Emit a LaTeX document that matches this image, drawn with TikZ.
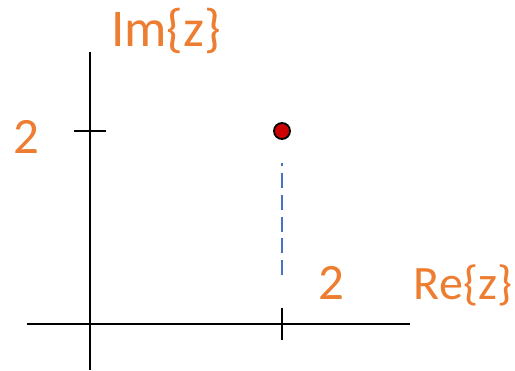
\documentclass[tikz,border=0pt]{standalone}
\usepackage{fontspec}
\setmainfont{Carlito}
\definecolor{lblorange}{HTML}{ED7D31}
\definecolor{dashblue}{HTML}{4472C4}
\definecolor{dotred}{HTML}{CC0000}
\begin{document}
\begin{tikzpicture}[x=1pt,y=-1pt,
  axisline/.style={line width=2pt,black},
  lbl/.style={text=lblorange,font=\fontsize{48}{50}\selectfont,inner sep=0pt,anchor=base}]
\useasboundingbox (0,0) rectangle (515,371);
% axes
\coordinate (xl) at (27,324);
\coordinate (xr) at (410,324);
\coordinate (yt) at (90,52);
\coordinate (yb) at (90,370);
\draw[axisline] (xl) -- (xr);
\draw[axisline] (yb) -- (yt);
% ticks
\coordinate (tyl) at (74,131);
\coordinate (tyr) at (106,131);
\coordinate (txt) at (282,308);
\coordinate (txb) at (282,340);
\draw[axisline] (tyl) -- (tyr);
\draw[axisline] (txt) -- (txb);
% point and dashed line
\node[circle,draw=black,line width=1.8pt,fill=dotred,minimum size=16pt,inner sep=0pt] (pt) at (282,131) {};
\coordinate (dtop) at (282,275);
\coordinate (dbot) at (282,163);
\draw[dashblue,line width=2pt,dash pattern=on 15pt off 6.7pt] (dtop) -- (dbot);
% labels
\node[lbl,font=\fontsize{53}{55}\selectfont] (im) at (166,47) {Im\{z\}};
\node[lbl] (re) at (463,300) {Re\{z\}};
\node[lbl,font=\fontsize{51}{53}\selectfont] (two1) at (26.5,154) {2};
\node[lbl,font=\fontsize{51}{53}\selectfont] (two2) at (331,300) {2};
\end{tikzpicture}
\end{document}
